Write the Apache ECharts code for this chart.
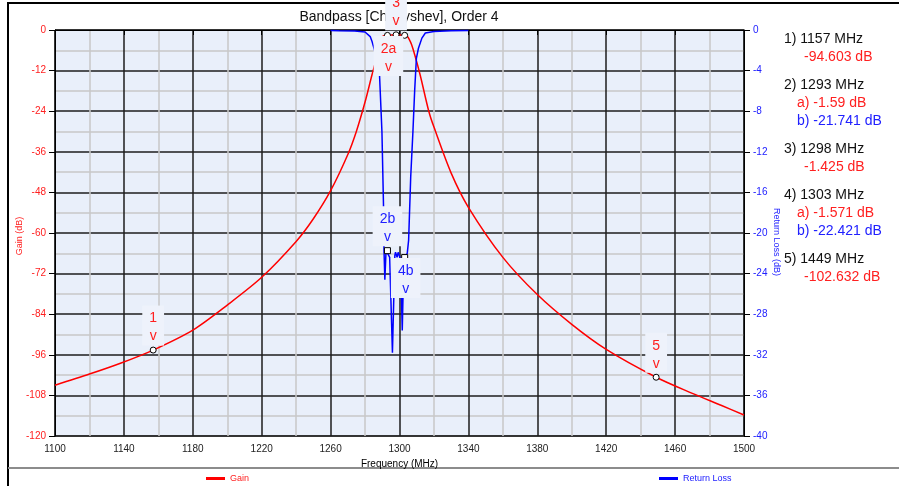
<!DOCTYPE html>
<html>
<head>
<meta charset="utf-8">
<script src="https://cdn.jsdelivr.net/npm/echarts@6/dist/echarts.min.js"></script>
<style>
  html, body { margin: 0; padding: 0; background: #fff; }
  #chart { width: 899px; height: 486px; }
</style>
</head>
<body>
<div id="chart"></div>
<script>
// gain trace (MHz, dB)
const gainFreq = [1100, 1120, 1138, 1157, 1180, 1200, 1220, 1240, 1250, 1260, 1270, 1275, 1280, 1284, 1286, 1288, 1289, 1290, 1291, 1293, 1295.5, 1298, 1300.5, 1303, 1304.5, 1305.5, 1307, 1309, 1312, 1317, 1320, 1330, 1340, 1360, 1380, 1400, 1420, 1449, 1470, 1487, 1500]
const gainVals = [-105, -101.7, -98.5, -94.603, -88.7, -81.3, -73.1, -62.5, -55.8, -47.5, -36.8, -29.9, -21.3, -13.3, -9.5, -5.0, -3.2, -2.1, -1.7, -1.59, -1.5, -1.425, -1.48, -1.571, -1.9, -2.6, -4.3, -7.6, -13.3, -24.0, -28.7, -42.3, -52.4, -67.2, -78.2, -87.0, -94.4, -102.632, -107.4, -111.0, -113.8]

// return loss trace (MHz, dB)
const rlFreq = [1260, 1265, 1274, 1280, 1283, 1284, 1286, 1288.4, 1289.8, 1290.7, 1291.0, 1291.5, 1292.2, 1293, 1294.3, 1295.9, 1297.3, 1297.7, 1298.6, 1299.2, 1300, 1300.6, 1301.6, 1302.5, 1303, 1304.5, 1305.3, 1306.5, 1307.8, 1308.8, 1309.8, 1311, 1313, 1315, 1320, 1330, 1340]
const rlVals = [-0.05, -0.08, -0.1, -0.2, -0.65, -1.1, -2.3, -4.4, -10, -17.2, -21.7, -24.6, -21.7, -21.741, -22.4, -31.8, -22.2, -21.9, -22.4, -21.9, -22.3, -22.7, -29.6, -22.7, -22.421, -22.0, -20.7, -14.5, -10, -6, -2.8, -1.8, -0.8, -0.3, -0.15, -0.07, -0.04]

// markers
const markerNames = ['1', '2', '3', '4', '5']
const markerFreq = [1157, 1293, 1298, 1303, 1449]
const markerGain = [-94.603, -1.59, -1.425, -1.571, -102.632]
const markerRL = [null, -21.741, null, -22.421, null]

const RED = '#ff2020'
const BLUE = '#2020ff'
const FONT = 'Liberation Sans, Arial, sans-serif'
const NARROW = 'Liberation Sans Narrow, Liberation Sans, Arial, sans-serif'

const chart = echarts.init(document.getElementById('chart'))

const labelBase = {
  show: true,
  fontSize: 14,
  fontFamily: FONT,
  lineHeight: 18,
  backgroundColor: '#eef2fb',
  padding: [4, 7, 0, 7]
}

// where each marker label sits (gain markers / return loss markers)
const gainLabelPos = ['top', 'bottom', 'top', null, 'top']
const rlLabelPos = [null, 'top', null, 'bottom', null]

function markerLabel (text, pos, color) {
  return Object.assign({}, labelBase, {
    formatter: text + '\nv',
    color: color,
    position: pos,
    distance: pos === 'top' ? 1 : 0,
    offset: pos === 'top' ? [0, 0] : [1, -3]
  })
}

const gainMarks = markerFreq.map((f, i) => {
  const hasB = markerRL[i] !== null
  const name = markerNames[i] + (hasB ? 'a' : '')
  const item = { coord: [f, markerGain[i]] }
  if (gainLabelPos[i]) {
    item.label = markerLabel(name, gainLabelPos[i], RED)
  } else {
    item.label = { show: false }
  }
  return item
})

const rlMarks = []
markerFreq.forEach((f, i) => {
  if (markerRL[i] === null) return
  rlMarks.push({
    coord: [f, markerRL[i]],
    label: markerLabel(markerNames[i] + 'b', rlLabelPos[i], BLUE)
  })
})

// readout panel on the right
const readout = []
let ry = 39
markerFreq.forEach((f, i) => {
  readout.push({ type: 'text', x: 784, y: ry, style: { text: markerNames[i] + ') ' + f + ' MHz', font: '14px ' + FONT, fill: '#111', verticalAlign: 'middle' } })
  ry += 18.5
  if (markerRL[i] !== null) {
    readout.push({ type: 'text', x: 797, y: ry, style: { text: 'a) ' + markerGain[i] + ' dB', font: '14px ' + FONT, fill: RED, verticalAlign: 'middle' } })
    ry += 18
    readout.push({ type: 'text', x: 797, y: ry, style: { text: 'b) ' + markerRL[i] + ' dB', font: '14px ' + FONT, fill: BLUE, verticalAlign: 'middle' } })
  } else {
    readout.push({ type: 'text', x: 804, y: ry, style: { text: markerGain[i] + ' dB', font: '14px ' + FONT, fill: RED, verticalAlign: 'middle' } })
  }
  ry += 27.5
})

chart.setOption({
  animation: false,
  backgroundColor: '#fff',
  graphic: [
    { type: 'rect', z: 0, shape: { x: 8, y: 3, width: 1000, height: 1000 }, style: { fill: null, stroke: '#000', lineWidth: 2 } },
    { type: 'line', z: 0, shape: { x1: 8, y1: 468, x2: 899, y2: 468 }, style: { stroke: '#8c8c8c', lineWidth: 2 } },
    { type: 'text', z: 1, x: 399, y: 17, style: { text: 'Bandpass [Chebyshev], Order 4', font: '14px ' + FONT, fill: '#111', align: 'center', verticalAlign: 'middle' } },
    // axis titles
    { type: 'text', z: 1, x: 20, y: 236, rotation: Math.PI / 2, style: { text: 'Gain (dB)', font: '9px ' + FONT, fill: RED, align: 'center', verticalAlign: 'middle' } },
    { type: 'text', z: 1, x: 776, y: 242, rotation: -Math.PI / 2, style: { text: 'Return Loss (dB)', font: '9px ' + FONT, fill: BLUE, align: 'center', verticalAlign: 'middle' } }
  ].concat(readout),
  legend: [{
    data: ['Gain'],
    left: 201,
    top: 469,
    icon: 'rect',
    itemWidth: 19,
    itemHeight: 3,
    itemGap: 4,
    textStyle: { color: RED, fontSize: 9, fontFamily: NARROW }
  }, {
    data: ['Return Loss'],
    left: 654,
    top: 469,
    icon: 'rect',
    itemWidth: 19,
    itemHeight: 3,
    itemGap: 4,
    textStyle: { color: BLUE, fontSize: 9, fontFamily: NARROW }
  }],
  grid: {
    left: 55,
    right: 155,
    top: 30,
    bottom: 50,
    show: true,
    backgroundColor: '#e9effa',
    borderColor: '#000',
    borderWidth: 1
  },
  xAxis: {
    type: 'value',
    min: 1100,
    max: 1500,
    interval: 40,
    name: 'Frequency (MHz)',
    nameLocation: 'middle',
    nameGap: 21,
    nameTextStyle: { color: '#000', fontSize: 10, fontFamily: NARROW },
    axisLine: { lineStyle: { color: '#000', width: 1 } },
    axisTick: { show: true, length: 5, lineStyle: { color: '#000' } },
    axisLabel: { color: '#222', fontSize: 10, fontFamily: NARROW, margin: 8, formatter: v => String(v) },
    splitLine: { lineStyle: { color: '#1c1c1c', width: 1.5 } },
    minorTick: { show: false, splitNumber: 2 },
    minorSplitLine: { show: true, lineStyle: { color: '#c8c8c8', width: 1.5 } }
  },
  yAxis: [{
    type: 'value',
    min: -120,
    max: 0,
    interval: 12,
    position: 'left',
    axisLine: { show: true, lineStyle: { color: '#000', width: 1 } },
    axisTick: { show: true, length: 6, lineStyle: { color: '#000' } },
    axisLabel: { color: RED, fontSize: 10, fontFamily: NARROW, margin: 9 },
    splitLine: { lineStyle: { color: '#1c1c1c', width: 1.5 } },
    minorTick: { show: false, splitNumber: 2 },
    minorSplitLine: { show: true, lineStyle: { color: '#c8c8c8', width: 1.5 } }
  }, {
    type: 'value',
    min: -40,
    max: 0,
    interval: 4,
    position: 'right',
    axisLine: { show: true, lineStyle: { color: '#000', width: 1 } },
    axisTick: { show: true, length: 6, lineStyle: { color: '#000' } },
    axisLabel: { color: BLUE, fontSize: 10, fontFamily: NARROW, margin: 9 },
    splitLine: { show: false }
  }],
  series: [{
    name: 'Gain',
    type: 'line',
    yAxisIndex: 0,
    smooth: 0.3,
    showSymbol: false,
    color: '#ff0000',
    lineStyle: { width: 1.5, color: '#ff0000' },
    data: gainFreq.map((f, i) => [f, gainVals[i]]),
    markPoint: {
      symbol: 'circle',
      symbolSize: 6,
      itemStyle: { color: '#fff', borderColor: '#000', borderWidth: 1 },
      data: gainMarks
    }
  }, {
    name: 'Return Loss',
    type: 'line',
    yAxisIndex: 1,
    showSymbol: false,
    color: '#0000ff',
    lineStyle: { width: 1.5, color: '#0000ff' },
    data: rlFreq.map((f, i) => [f, rlVals[i]]),
    markPoint: {
      symbol: 'rect',
      symbolSize: 6,
      itemStyle: { color: '#fff', borderColor: '#000', borderWidth: 1 },
      data: rlMarks
    }
  }]
})
</script>
</body>
</html>
